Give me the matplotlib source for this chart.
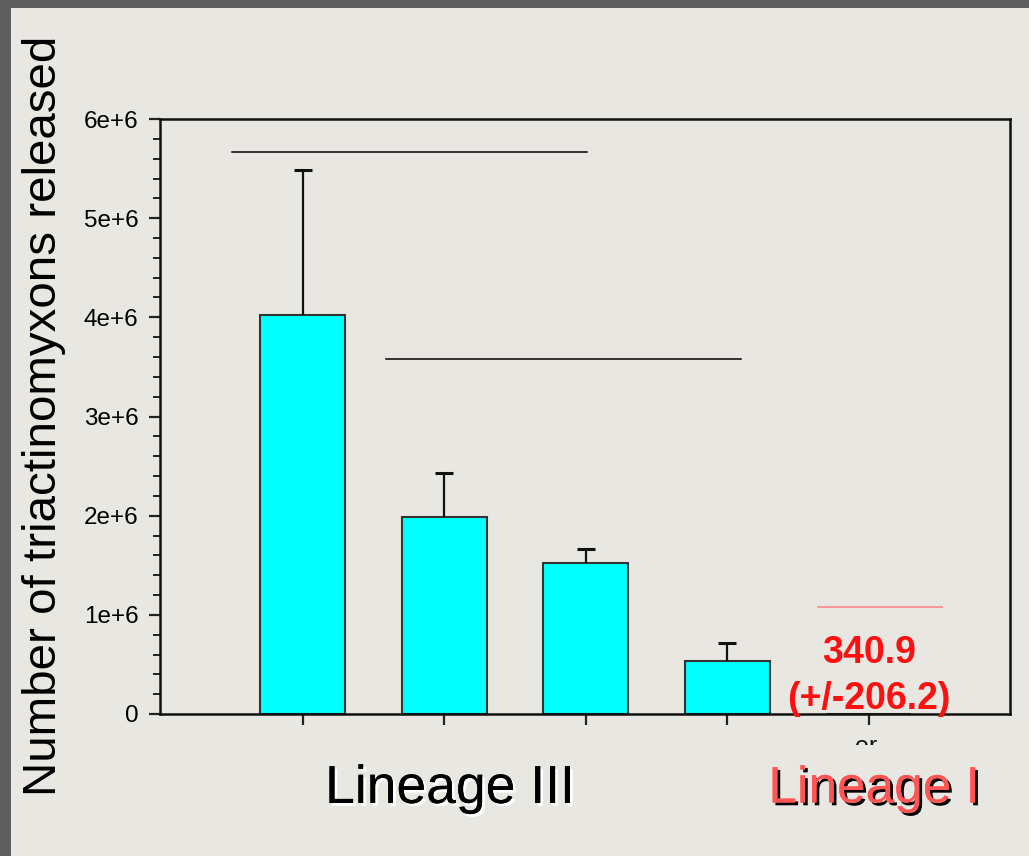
import matplotlib
matplotlib.use("Agg")
import matplotlib.pyplot as plt
import matplotlib.patheffects as pe
from matplotlib.patches import Rectangle
from matplotlib.transforms import Bbox
from matplotlib.ticker import MultipleLocator

plt.rcParams['font.family'] = ['Liberation Sans', 'DejaVu Sans']

# Mean number of triactinomyxons released per group, with standard error
positions = [0, 1, 2, 3, 4]
means = [4.023e6, 1.99e6, 1.525e6, 0.532e6, 340.9]
errors = [1.463e6, 0.44e6, 0.139e6, 0.187e6, 206.2]

# Comparison bars: (x start, x end, height)
comparisons = [(-0.5, 2.01, 5.667e6), (0.587, 3.10, 3.58e6)]
lineage1_line = (3.64, 4.52, 1.079e6)

yticks = [0, 1e6, 2e6, 3e6, 4e6, 5e6, 6e6]
yticklabels = ['0', '1e+6', '2e+6', '3e+6', '4e+6', '5e+6', '6e+6']

bg = '#E8E7E2'
fig = plt.figure(figsize=(10.29, 8.56), dpi=100, facecolor='#5E5E5E')
fig.patches.append(Rectangle((11 / 1029, 0), 1 - 11 / 1029, 1 - 8 / 856,
                             transform=fig.transFigure, facecolor=bg,
                             edgecolor='none', zorder=-5))

ax = fig.add_axes([160 / 1029, 1 - 714 / 856, 850 / 1029, 595 / 856])
ax.set_zorder(1)
ax.set_facecolor(bg)

ax.bar(positions, means, width=0.6, color='#00FFFF', edgecolor='#333333',
       linewidth=1.5, zorder=2)
_, caps, _ = ax.errorbar(positions[:4], means[:4], yerr=[[0] * 4, errors[:4]],
                         fmt='none', ecolor='#111111', elinewidth=1.6,
                         capsize=6.5, capthick=2.2, zorder=3)
# upper error only: hide the cap drawn at the bar top
caps[0].set_visible(False)

for x0, x1, y in comparisons:
    ax.plot([x0, x1], [y, y], color='black', linewidth=1.1, zorder=3)
ax.plot([lineage1_line[0], lineage1_line[1]], [lineage1_line[2]] * 2,
        color='#FF8080', linewidth=1.1, zorder=3)

ax.text(4, 0.62e6, f'{means[4]:.1f}', color='#FF1010', fontsize=27,
        fontweight='bold', ha='center', va='center', zorder=4)
ax.text(4, 0.15e6, f'(+/-{errors[4]:.1f})', color='#FF1010', fontsize=27,
        fontweight='bold', ha='center', va='center', zorder=4, clip_on=False)

ax.set_xlim(-1.01, 5.0)
ax.set_ylim(0, 6e6)
ax.set_xticks(positions)
ax.set_xticklabels([''] * 5)
ax.set_yticks(yticks)
ax.set_yticklabels(yticklabels)
ax.yaxis.set_minor_locator(MultipleLocator(2e5))
ax.tick_params(axis='both', which='major', direction='out', length=8,
               width=1.6, color='#222222', pad=7.5, labelsize=17.5)
ax.tick_params(axis='y', which='minor', direction='out', length=5,
               width=1.4, color='#222222')
for s in ax.spines.values():
    s.set_linewidth(1.8)
    s.set_color('#111111')

# partially hidden tick label fragment under the last bar
frag = fig.text(866 / 1029, 1 - 735 / 856, 'er', fontsize=18, ha='center',
                va='top', color='#111111')
frag.set_clip_box(Bbox.from_extents(820, 856 - 745, 920, 856 - 730))
frag.set_clip_on(True)

ax.set_ylabel('Number of triactinomyxons released', fontsize=34.2)
ax.yaxis.set_label_coords(44 / 1029, 1 - 416 / 856, transform=fig.transFigure)
ax.yaxis.label.set_va('center')

fig.text(450 / 1029, 1 - 789 / 856, 'Lineage III', fontsize=38.5, ha='center',
         va='center', color='black',
         path_effects=[pe.withSimplePatchShadow(offset=(2, -2), shadow_rgbFace='white',
                                                alpha=1.0), pe.Normal()])
fig.text(874 / 1029, 1 - 789 / 856, 'Lineage I', fontsize=37, ha='center',
         va='center', color='#FF5555',
         path_effects=[pe.withSimplePatchShadow(offset=(2, -2), shadow_rgbFace='black',
                                                alpha=1.0), pe.Normal()])

fig.savefig('out.png', dpi=100, facecolor=fig.get_facecolor())
